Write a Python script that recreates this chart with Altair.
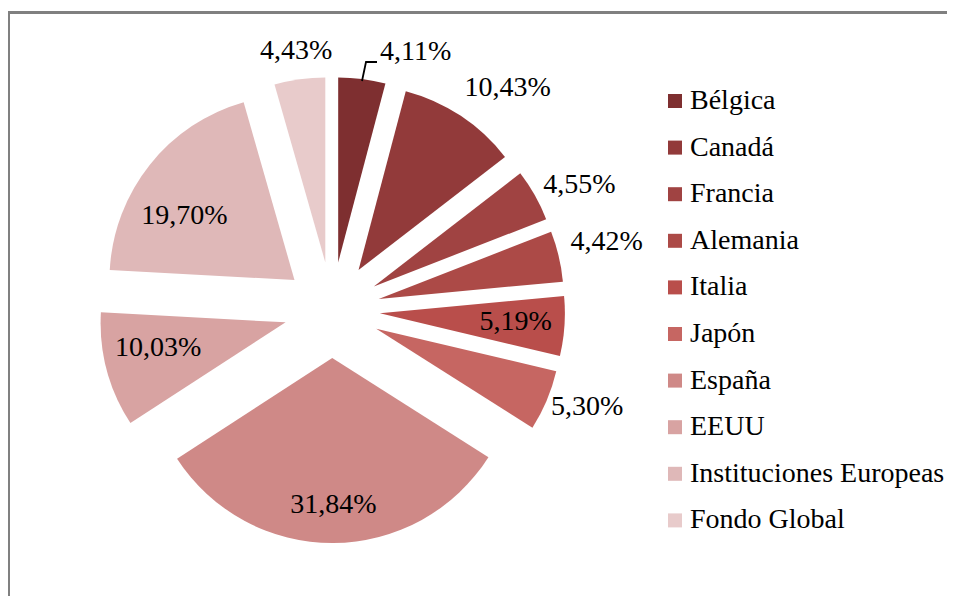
import altair as alt
import pandas as pd

# ---- data ----
paises = ["Bélgica", "Canadá", "Francia", "Alemania", "Italia", "Japón",
          "España", "EEUU", "Instituciones Europeas", "Fondo Global"]
porcentajes = [4.11, 10.43, 4.55, 4.42, 5.19, 5.30, 31.84, 10.03, 19.70, 4.43]
colores = ["#7E2F30", "#923A3A", "#A04342", "#AC4A47", "#B94E4B", "#C66662",
           "#CF8987", "#D8A3A2", "#DFB8B8", "#E8CBCB"]

# ---- layout ----
W, H = 939, 588
CX, CY = 324, 302          # pie centre (px)
R = 185                    # pie radius
EXPLODE = 48               # slice offset
label_dist = [271, 283, 277, 283, 184, 273, 195, 178, 175, 261]
label_shift = [10.6, 4.8, 2.7, -0.6, -0.3, -2.1, -0.1, 2.7, -6.1, 0.1]
FONT = "Liberation Serif, Times New Roman, DejaVu Serif, serif"

df = pd.DataFrame({
    "pais": paises,
    "valor": porcentajes,
    "idx": list(range(len(paises))),
    "etiqueta": [f"{v:.2f}".replace(".", ",") + "%" for v in porcentajes],
    "ldist": label_dist,
    "lshift": label_shift,
})

base = (
    alt.Chart(df)
    .transform_window(cum="sum(valor)", sort=[alt.SortField("idx")], frame=[None, 0])
    .transform_joinaggregate(total="sum(valor)")
    .transform_calculate(
        t0="2*PI*(datum.cum - datum.valor)/datum.total",
        t1="2*PI*datum.cum/datum.total",
    )
    .transform_calculate(mid="(datum.t0 + datum.t1)/2")
    .transform_calculate(
        ax=f"{CX} + {EXPLODE}*sin(datum.mid)",
        ay=f"{CY} - {EXPLODE}*cos(datum.mid)",
        la="datum.mid + datum.lshift*PI/180",
    )
    .transform_calculate(
        lx=f"{CX} + datum.ldist*sin(datum.la)",
        ly=f"{CY} - datum.ldist*cos(datum.la)",
    )
)

arcs = base.mark_arc(outerRadius=R, innerRadius=0).encode(
    x=alt.X("ax:Q", scale=None),
    y=alt.Y("ay:Q", scale=None),
    theta=alt.Theta("t0:Q", scale=None, stack=None),
    theta2="t1:Q",
    color=alt.Color(
        "pais:N",
        scale=alt.Scale(domain=paises, range=colores),
        sort=paises,
        legend=alt.Legend(
            orient="none", legendX=653, legendY=79, title=None,
            symbolType="square", symbolSize=196, symbolStrokeWidth=0,
            symbolOpacity=1, labelFont=FONT, labelFontSize=28,
            labelColor="black", rowPadding=18.6, labelOffset=1, padding=0,
            labelLimit=400,
        ),
    ),
)

labels = base.mark_text(font=FONT, fontSize=28, color="black",
                        align="center", baseline="middle").encode(
    x=alt.X("lx:Q", scale=None),
    y=alt.Y("ly:Q", scale=None),
    text="etiqueta:N",
)

leader_df = pd.DataFrame({"x": [354, 358, 369], "y": [73, 54, 54], "o": [0, 1, 2]})
leader = alt.Chart(leader_df).mark_line(color="black", strokeWidth=1.8).encode(
    x=alt.X("x:Q", scale=None), y=alt.Y("y:Q", scale=None), order="o:Q"
)

top_border = alt.Chart(df).mark_rule(color="#808080", strokeWidth=2).encode(
    x=alt.value(0), x2=alt.value(W), y=alt.value(4.5)
)
left_border = alt.Chart(df).mark_rule(color="#808080", strokeWidth=3).encode(
    x=alt.value(0.5), y=alt.value(4), y2=alt.value(H)
)

chart = (
    alt.layer(top_border, left_border, arcs, labels, leader)
    .properties(width=W, height=H, autosize="none", padding=0)
    .configure_view(stroke=None)
)

chart.save("out.html", embed_options={"renderer": "svg", "actions": False})
